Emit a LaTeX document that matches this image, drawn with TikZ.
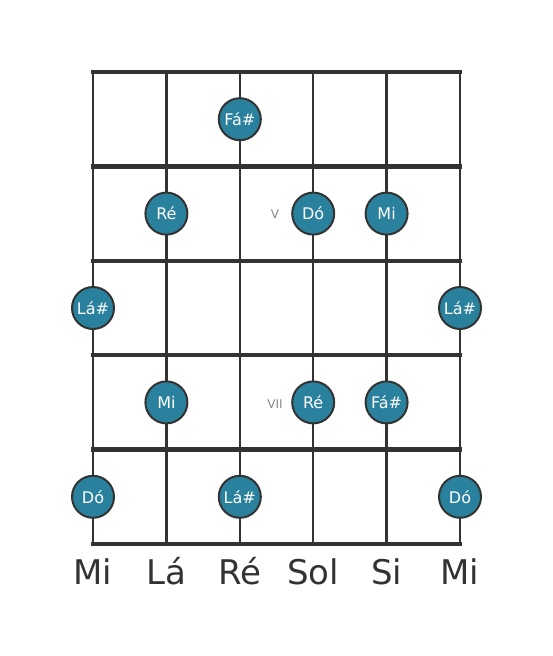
\documentclass[tikz,border=0pt]{standalone}
\usepackage{fontspec}
\setmainfont{DejaVu Sans}
\definecolor{linec}{HTML}{333333}
\definecolor{notec}{HTML}{2A819D}
\definecolor{fretno}{HTML}{888888}
\begin{document}
\begin{tikzpicture}[x=1pt,y=-1pt,
  fret/.style={draw=linec,line width=4.5pt},
  string/.style={draw=linec,line width=2.5pt},
  note/.style={circle,fill=notec,draw=linec,line width=2pt,minimum size=42pt,inner sep=0pt,text=white,font=\fontsize{16}{16}\selectfont},
  fnum/.style={text=fretno,font=\fontsize{12}{12}\selectfont},
  sname/.style={text=linec,font=\fontsize{34}{34}\selectfont,anchor=base}]
\useasboundingbox (0,0) rectangle (553,656);
% strings
\foreach \x [count=\i] in {93,166.4,239.8,313.2,386.6,460} {
  \coordinate (st\i) at (\x,72);
  \coordinate (sb\i) at (\x,544);
  \draw[string] (st\i) -- (sb\i);
}
% frets
\foreach \y [count=\j] in {72,166.4,260.8,355.2,449.6,544} {
  \coordinate (fl\j) at (93,\y);
  \coordinate (fr\j) at (460,\y);
  \draw[fret,line cap=rect] (fl\j) -- (fr\j);
}
% notes
\node[note] (n1) at (239.8,119.2) {Fá\#};
\node[note] (n2) at (166.4,213.6) {Ré};
\node[note] (n3) at (313.2,213.6) {Dó};
\node[note] (n4) at (386.6,213.6) {Mi};
\node[fnum] (f5) at (275,214) {V};
\node[note] (n5) at (93,308) {Lá\#};
\node[note] (n6) at (460,308) {Lá\#};
\node[note] (n7) at (166.4,402.4) {Mi};
\node[note] (n8) at (313.2,402.4) {Ré};
\node[note] (n9) at (386.6,402.4) {Fá\#};
\node[fnum] (f7) at (275,404) {VII};
\node[note] (n10) at (93,496.8) {Dó};
\node[note] (n11) at (239.8,496.8) {Lá\#};
\node[note] (n12) at (460,496.8) {Dó};
% string names
\node[sname] (l1) at (93,584) {Mi};
\node[sname] (l2) at (166.4,584) {Lá};
\node[sname] (l3) at (239.8,584) {Ré};
\node[sname] (l4) at (313.2,584) {Sol};
\node[sname] (l5) at (386.6,584) {Si};
\node[sname] (l6) at (460,584) {Mi};
\end{tikzpicture}
\end{document}
